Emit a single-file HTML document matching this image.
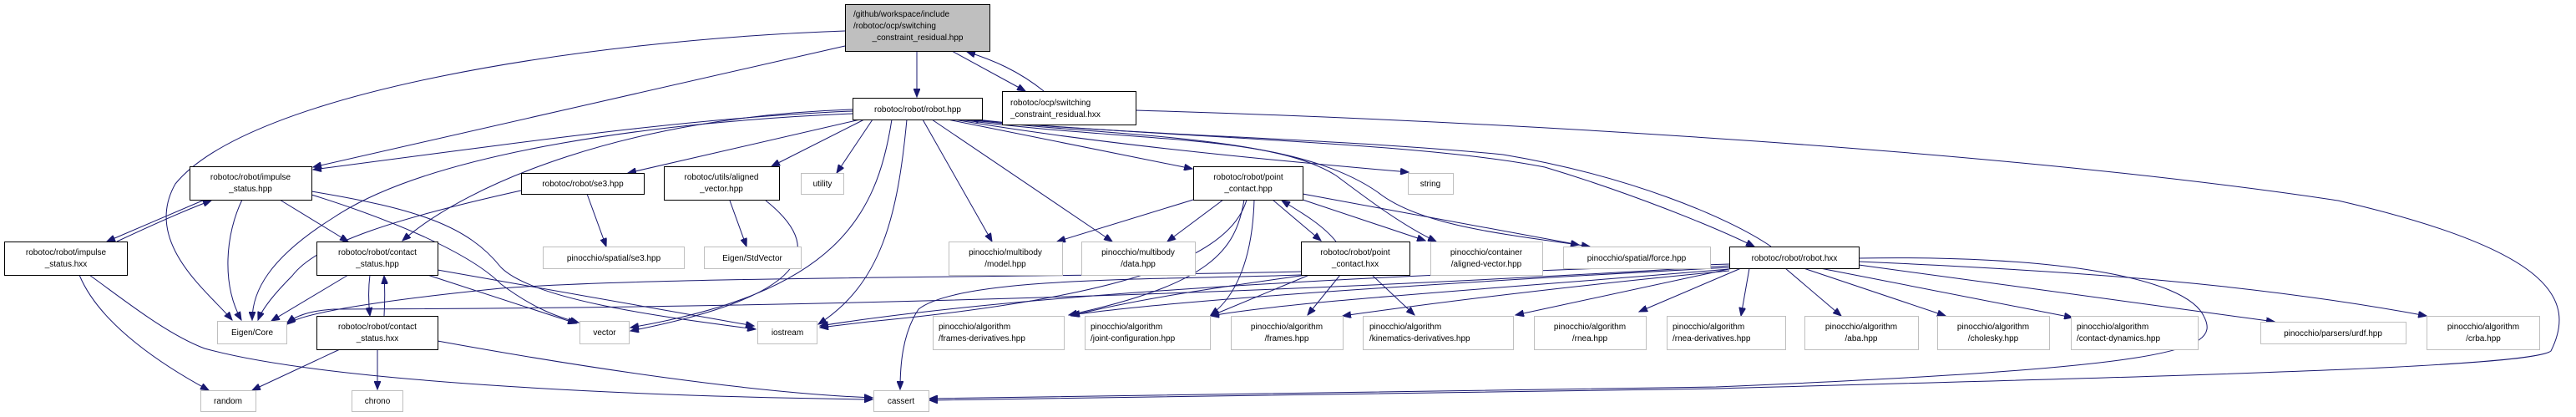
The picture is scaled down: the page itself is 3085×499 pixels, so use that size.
<!DOCTYPE html>
<html><head><meta charset="utf-8"><style>
html,body{margin:0;padding:0;background:#fff;}
svg{display:block;}
text{font-family:"Liberation Sans",Helvetica,Arial,sans-serif;font-size:10px;fill:#000;}
.n{fill:#fff;stroke:#000;stroke-width:1;}
.g{fill:#fff;stroke:#bfbfbf;stroke-width:1;}
.e{fill:none;stroke:#191970;stroke-width:1;}
</style></head><body>
<svg width="3085" height="499" viewBox="0 0 3085 499" xmlns="http://www.w3.org/2000/svg">
<defs>
<marker id="a" markerUnits="userSpaceOnUse" markerWidth="11" markerHeight="8" refX="10" refY="4" orient="auto">
<path d="M0,0 L10,4 L0,8 z" fill="#191970" stroke="#191970"/>
</marker>
</defs>
<g marker-end="url(#a)">
<path class="e" d="M1012,37 C700,48 300,110 210,220 C170,290 250,350 278,383"/>
<path class="e" d="M1012,55 L375,200"/>
<path class="e" d="M1098,61 L1098,116"/>
<path class="e" d="M1140,61 L1228,109"/>
<path class="e" d="M1250,109 C1220,85 1190,72 1158,62"/>
<path class="e" d="M1360,132 C1800,145 2400,180 2800,240 C3060,300 3085,360 3055,420 C3030,440 2600,450 2055,465 C1600,472 1300,478 1113,479"/>
<path class="e" d="M1021,133 C850,140 700,160 375,203"/>
<path class="e" d="M1021,136 C800,145 520,180 400,260 C320,310 302,350 302,383"/>
<path class="e" d="M1021,131 C750,140 560,220 482,288"/>
<path class="e" d="M1030,143 L752,207"/>
<path class="e" d="M1035,143 L924,199"/>
<path class="e" d="M1045,143 L1002,207"/>
<path class="e" d="M1068,143 C1050,260 1000,350 755,392"/>
<path class="e" d="M1086,143 C1075,260 1055,340 980,388"/>
<path class="e" d="M1105,143 L1188,289"/>
<path class="e" d="M1116,143 L1332,289"/>
<path class="e" d="M1135,143 L1428,202"/>
<path class="e" d="M1142,143 C1300,170 1500,190 1687,206"/>
<path class="e" d="M1148,143 C1350,170 1520,160 1600,210 C1640,240 1680,270 1720,289"/>
<path class="e" d="M1155,143 C1350,165 1550,160 1650,230 C1700,270 1800,280 1904,295"/>
<path class="e" d="M1160,143 C1400,165 1700,170 1850,200 C1950,230 2050,270 2101,295"/>
<path class="e" d="M2121,295 C2070,260 1950,210 1800,185 C1600,165 1300,160 1162,142"/>
<path class="e" d="M2071,318 C1800,335 1200,368 400,370 C370,372 355,378 344,386"/>
<path class="e" d="M2071,320 C1700,340 1400,360 1283,377"/>
<path class="e" d="M2071,322 C1800,345 1550,360 1450,378"/>
<path class="e" d="M2071,324 C1850,345 1700,365 1608,378"/>
<path class="e" d="M2075,321 L1815,377"/>
<path class="e" d="M2085,321 L1963,373"/>
<path class="e" d="M2095,321 L2085,378"/>
<path class="e" d="M2138,321 L2205,378"/>
<path class="e" d="M2160,321 L2330,378"/>
<path class="e" d="M2180,321 L2482,380"/>
<path class="e" d="M2226,317 L2724,385"/>
<path class="e" d="M2226,313 C2500,325 2700,340 2906,378"/>
<path class="e" d="M2226,309 C2450,305 2620,330 2640,380 C2660,420 2600,440 2055,463 L1113,477"/>
<path class="e" d="M2071,316 C1600,330 1200,355 982,390"/>
<path class="e" d="M1429,239 L1266,289"/>
<path class="e" d="M1465,239 L1398,289"/>
<path class="e" d="M1524,239 L1582,288"/>
<path class="e" d="M1560,239 L1707,288"/>
<path class="e" d="M1560,232 L1891,293"/>
<path class="e" d="M1490,239 C1480,300 1450,340 1280,377"/>
<path class="e" d="M1502,239 C1500,310 1480,355 1450,377"/>
<path class="e" d="M1493,239 C1470,320 1300,360 1040,385 L982,392"/>
<path class="e" d="M1600,289 C1585,270 1560,255 1535,240"/>
<path class="e" d="M1558,329 C1400,335 1150,330 1100,370 C1080,400 1078,440 1078,466"/>
<path class="e" d="M1565,329 C1450,345 1350,360 1283,378"/>
<path class="e" d="M1568,329 L1450,378"/>
<path class="e" d="M1605,329 L1566,377"/>
<path class="e" d="M1643,329 L1694,377"/>
<path class="e" d="M1558,325 C1300,332 800,330 600,345 C450,360 360,375 344,388"/>
<path class="e" d="M245,239 C220,250 160,275 128,289"/>
<path class="e" d="M140,289 C170,275 220,252 253,240"/>
<path class="e" d="M290,239 C270,280 265,340 289,383"/>
<path class="e" d="M335,239 L417,289"/>
<path class="e" d="M373,233 C460,260 560,300 600,340 C640,370 670,380 693,386"/>
<path class="e" d="M373,229 C500,250 560,270 600,320 C640,360 800,380 905,394"/>
<path class="e" d="M624,228 C480,260 380,290 350,330 C320,360 312,375 309,383"/>
<path class="e" d="M703,232 L726,295"/>
<path class="e" d="M874,240 L894,295"/>
<path class="e" d="M917,240 C980,290 990,350 755,396"/>
<path class="e" d="M95,329 C120,390 200,440 250,467"/>
<path class="e" d="M107,329 C150,360 200,400 245,417 C400,460 800,475 1045,478"/>
<path class="e" d="M417,329 L325,384"/>
<path class="e" d="M443,329 C441,345 441,360 443,378"/>
<path class="e" d="M460,378 C461,360 461,345 460,330"/>
<path class="e" d="M512,329 L690,387"/>
<path class="e" d="M524,323 L903,390"/>
<path class="e" d="M407,418 L302,467"/>
<path class="e" d="M452,418 L452,466"/>
<path class="e" d="M524,408 C700,440 900,470 1045,476"/>
</g>
<rect x="1012.5" y="5.5" width="173" height="56" fill="#bfbfbf" stroke="#000"/>
<text x="1022" y="20">/github/workspace/include</text>
<text x="1022" y="34">/robotoc/ocp/switching</text>
<text x="1099" y="48" text-anchor="middle">_constraint_residual.hpp</text>
<rect class="n" x="1021.5" y="117.5" width="155" height="26"/>
<text x="1099" y="134" text-anchor="middle">robotoc/robot/robot.hpp</text>
<rect class="n" x="1200.5" y="109.5" width="160" height="40"/>
<text x="1210" y="126">robotoc/ocp/switching</text>
<text x="1210" y="140">_constraint_residual.hxx</text>
<rect class="n" x="227.5" y="199.5" width="146" height="40"/>
<text x="300" y="215" text-anchor="middle">robotoc/robot/impulse</text>
<text x="300" y="229" text-anchor="middle">_status.hpp</text>
<rect class="n" x="624.5" y="207.5" width="147" height="25"/>
<text x="698" y="223" text-anchor="middle">robotoc/robot/se3.hpp</text>
<rect class="n" x="795.5" y="199.5" width="138" height="40"/>
<text x="864" y="215" text-anchor="middle">robotoc/utils/aligned</text>
<text x="864" y="229" text-anchor="middle">_vector.hpp</text>
<rect class="g" x="959.5" y="207.5" width="51" height="25"/>
<text x="985" y="223" text-anchor="middle">utility</text>
<rect class="n" x="5.5" y="289.5" width="147" height="40"/>
<text x="79" y="305" text-anchor="middle">robotoc/robot/impulse</text>
<text x="79" y="319" text-anchor="middle">_status.hxx</text>
<rect class="n" x="379.5" y="289.5" width="145" height="40"/>
<text x="452" y="305" text-anchor="middle">robotoc/robot/contact</text>
<text x="452" y="319" text-anchor="middle">_status.hpp</text>
<rect class="g" x="650.5" y="295.5" width="169" height="26"/>
<text x="735" y="312" text-anchor="middle">pinocchio/spatial/se3.hpp</text>
<rect class="g" x="843.5" y="295.5" width="116" height="26"/>
<text x="901" y="312" text-anchor="middle">Eigen/StdVector</text>
<rect class="g" x="260.5" y="384.5" width="83" height="27"/>
<text x="302" y="401" text-anchor="middle">Eigen/Core</text>
<rect class="n" x="379.5" y="378.5" width="145" height="40"/>
<text x="452" y="394" text-anchor="middle">robotoc/robot/contact</text>
<text x="452" y="408" text-anchor="middle">_status.hxx</text>
<rect class="g" x="694.5" y="384.5" width="59" height="27"/>
<text x="724" y="401" text-anchor="middle">vector</text>
<rect class="g" x="907.5" y="384.5" width="71" height="27"/>
<text x="943" y="401" text-anchor="middle">iostream</text>
<rect class="g" x="240.5" y="467.5" width="66" height="25"/>
<text x="273" y="483" text-anchor="middle">random</text>
<rect class="g" x="421.5" y="467.5" width="61" height="25"/>
<text x="452" y="483" text-anchor="middle">chrono</text>
<rect class="g" x="1046.5" y="467.5" width="66" height="25"/>
<text x="1079" y="483" text-anchor="middle">cassert</text>
<rect class="n" x="1429.5" y="199.5" width="131" height="40"/>
<text x="1495" y="215" text-anchor="middle">robotoc/robot/point</text>
<text x="1495" y="229" text-anchor="middle">_contact.hpp</text>
<rect class="g" x="1686.5" y="207.5" width="54" height="25"/>
<text x="1713" y="223" text-anchor="middle">string</text>
<rect class="g" x="1136.5" y="289.5" width="136" height="40"/>
<text x="1204" y="305" text-anchor="middle">pinocchio/multibody</text>
<text x="1204" y="319" text-anchor="middle">/model.hpp</text>
<rect class="g" x="1295.5" y="289.5" width="136" height="40"/>
<text x="1363" y="305" text-anchor="middle">pinocchio/multibody</text>
<text x="1363" y="319" text-anchor="middle">/data.hpp</text>
<rect class="n" x="1558.5" y="289.5" width="130" height="40"/>
<text x="1623" y="305" text-anchor="middle">robotoc/robot/point</text>
<text x="1623" y="319" text-anchor="middle">_contact.hxx</text>
<rect class="g" x="1713.5" y="289.5" width="134" height="40"/>
<text x="1780" y="305" text-anchor="middle">pinocchio/container</text>
<text x="1780" y="319" text-anchor="middle">/aligned-vector.hpp</text>
<rect class="g" x="1872.5" y="295.5" width="176" height="26"/>
<text x="1960" y="312" text-anchor="middle">pinocchio/spatial/force.hpp</text>
<rect class="n" x="2071.5" y="295.5" width="155" height="26"/>
<text x="2149" y="312" text-anchor="middle">robotoc/robot/robot.hxx</text>
<rect class="g" x="1117.5" y="378.5" width="157" height="40"/>
<text x="1124" y="394">pinocchio/algorithm</text>
<text x="1124" y="408">/frames-derivatives.hpp</text>
<rect class="g" x="1299.5" y="378.5" width="150" height="40"/>
<text x="1306" y="394">pinocchio/algorithm</text>
<text x="1306" y="408">/joint-configuration.hpp</text>
<rect class="g" x="1474.5" y="378.5" width="134" height="40"/>
<text x="1541" y="394" text-anchor="middle">pinocchio/algorithm</text>
<text x="1541" y="408" text-anchor="middle">/frames.hpp</text>
<rect class="g" x="1632.5" y="378.5" width="180" height="40"/>
<text x="1640" y="394">pinocchio/algorithm</text>
<text x="1640" y="408">/kinematics-derivatives.hpp</text>
<rect class="g" x="1837.5" y="378.5" width="134" height="40"/>
<text x="1904" y="394" text-anchor="middle">pinocchio/algorithm</text>
<text x="1904" y="408" text-anchor="middle">/rnea.hpp</text>
<rect class="g" x="1996.5" y="378.5" width="142" height="40"/>
<text x="2003" y="394">pinocchio/algorithm</text>
<text x="2003" y="408">/rnea-derivatives.hpp</text>
<rect class="g" x="2161.5" y="378.5" width="136" height="40"/>
<text x="2229" y="394" text-anchor="middle">pinocchio/algorithm</text>
<text x="2229" y="408" text-anchor="middle">/aba.hpp</text>
<rect class="g" x="2320.5" y="378.5" width="134" height="40"/>
<text x="2387" y="394" text-anchor="middle">pinocchio/algorithm</text>
<text x="2387" y="408" text-anchor="middle">/cholesky.hpp</text>
<rect class="g" x="2480.5" y="378.5" width="152" height="40"/>
<text x="2487" y="394">pinocchio/algorithm</text>
<text x="2487" y="408">/contact-dynamics.hpp</text>
<rect class="g" x="2707.5" y="385.5" width="174" height="26"/>
<text x="2794" y="402" text-anchor="middle">pinocchio/parsers/urdf.hpp</text>
<rect class="g" x="2906.5" y="378.5" width="135" height="40"/>
<text x="2974" y="394" text-anchor="middle">pinocchio/algorithm</text>
<text x="2974" y="408" text-anchor="middle">/crba.hpp</text>
</svg>
</body></html>
